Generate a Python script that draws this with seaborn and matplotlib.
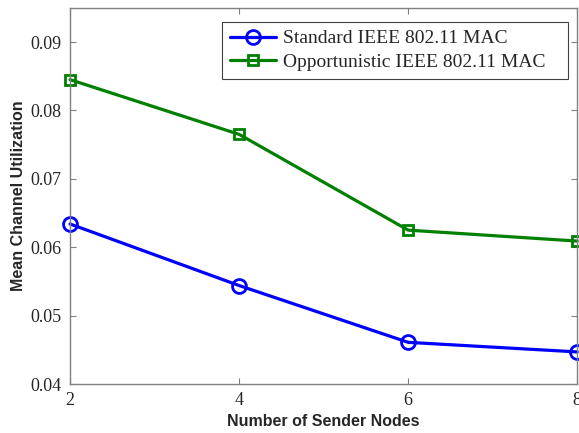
import matplotlib
matplotlib.use("Agg")
import matplotlib.pyplot as plt
import seaborn as sns
import pandas as pd

# Channel utilization against the number of sending nodes
sender_nodes = [2, 4, 6, 8]
standard_mac = [0.0634, 0.0544, 0.0461, 0.0447]
opportunistic_mac = [0.0845, 0.0765, 0.0625, 0.0609]
series_names = ["Standard IEEE 802.11 MAC", "Opportunistic IEEE 802.11 MAC"]
y_ticks = [0.04, 0.05, 0.06, 0.07, 0.08, 0.09]
x_ticks = [2, 4, 6, 8]

df = pd.DataFrame({
    "nodes": sender_nodes * 2,
    "util": standard_mac + opportunistic_mac,
    "series": [series_names[0]] * len(sender_nodes) + [series_names[1]] * len(sender_nodes),
})

sns.set_style("ticks")
plt.rcParams["font.family"] = ["Liberation Serif", "DejaVu Serif"]

fig = plt.figure(figsize=(5.79, 4.33), dpi=100)
ax = fig.add_axes([0.121, 0.113, 0.876, 0.869])

palette = {series_names[0]: "#0000ff", series_names[1]: "#008000"}
markers = {series_names[0]: "o", series_names[1]: "s"}
sns.lineplot(data=df, x="nodes", y="util", hue="series", style="series",
             palette=palette, markers=markers, dashes=False, linewidth=2.3,
             ax=ax, clip_on=False)


def hollow(line):
    # open markers outlined in the line colour
    line.set_markerfacecolor("none")
    line.set_markeredgecolor(line.get_color())
    line.set_markeredgewidth(2)
    line.set_markersize(7.5 if line.get_marker() == "s" else 10)


for line in ax.lines:
    hollow(line)

ax.set_xlim(2, 8)
ax.set_ylim(0.04, 0.095)
ax.set_xticks(x_ticks)
ax.set_yticks(y_ticks)
ax.set_xticklabels([str(v) for v in x_ticks])
ax.set_yticklabels([f"{v:.2f}" for v in y_ticks])
ax.tick_params(direction="in", length=4, width=0.8, color="#808080",
               labelsize=13, top=True, right=True, pad=6)
for side in ax.spines.values():
    side.set_color("#808080")
    side.set_linewidth(1.0)

ax.set_xlabel("Number of Sender Nodes", fontsize=11.5, fontweight="bold",
              family=["Liberation Sans", "DejaVu Sans"], labelpad=3)
ax.set_ylabel("Mean Channel Utilization", fontsize=11.5, fontweight="bold",
              family=["Liberation Sans", "DejaVu Sans"], labelpad=3)

handles, labels = ax.get_legend_handles_labels()
for h in handles:
    hollow(h)
# trailing spaces leave a wider right margin inside the legend box
labels = [lab + "   " for lab in labels]
leg = ax.legend(handles, labels, loc="upper right", bbox_to_anchor=(0.982, 0.962),
                fontsize=14, frameon=True, fancybox=False, framealpha=1,
                edgecolor="#404040", handlelength=2.4, handletextpad=0.35,
                borderpad=0.4, labelspacing=0.3, borderaxespad=0)
leg.get_frame().set_linewidth(0.8)

fig.savefig("out.png", dpi=100)
